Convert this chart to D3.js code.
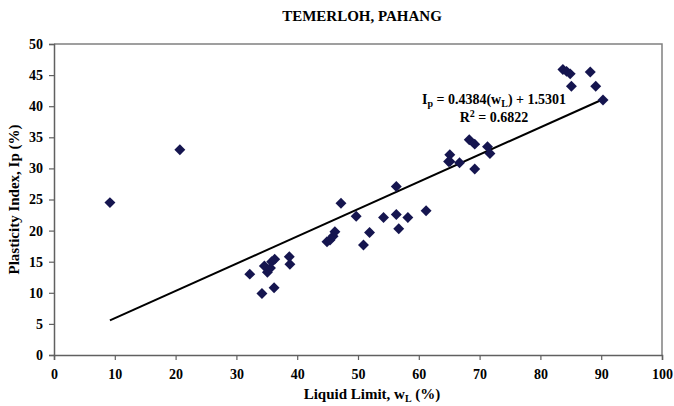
<!DOCTYPE html>
<html>
<head>
<meta charset="utf-8">
<script src="https://cdn.jsdelivr.net/npm/d3@7"></script>
<style>
  body { margin: 0; background: #fff; }
  svg text { font-family: "Liberation Serif", "DejaVu Serif", serif; font-weight: bold; fill: #000; }
</style>
</head>
<body>
<div id="chart"></div>
<script>
// liquid limit (%) and plasticity index (%)
var liquidLimit = [9.2, 20.7, 32.2, 34.2, 36.2, 34.6, 35.1, 35.6, 35.8, 36.3, 38.7, 38.8,
  44.9, 45.4, 45.9, 46.2, 47.2, 49.7, 50.9, 51.9, 54.2, 56.3, 56.3, 56.7, 58.2, 61.2,
  64.9, 65.1, 65.1, 66.7, 68.3, 69.2, 69.2, 71.3, 71.7,
  83.7, 84.3, 84.9, 85.1, 88.2, 89.1, 90.3];
var plasticityIndex = [24.5, 33.0, 13.0, 9.9, 10.8, 14.3, 13.3, 14.0, 15.0, 15.4, 15.8, 14.6,
  18.2, 18.5, 19.1, 19.8, 24.4, 22.3, 17.7, 19.7, 22.1, 27.1, 22.6, 20.3, 22.1, 23.2,
  31.1, 32.2, 31.1, 30.9, 34.6, 33.9, 29.9, 33.5, 32.4,
  45.9, 45.6, 45.2, 43.2, 45.5, 43.2, 41.0];
var xTicks = [0, 10, 20, 30, 40, 50, 60, 70, 80, 90, 100];
var yTicks = [0, 5, 10, 15, 20, 25, 30, 35, 40, 45, 50];
var slope = 0.4384, intercept = 1.5301;
var fitRange = [9.2, 90.3];

var width = 674, height = 406;
var margin = {top: 44, right: 12, bottom: 51, left: 54};

var svg = d3.select("#chart").append("svg")
    .attr("width", width)
    .attr("height", height);

var x = d3.scaleLinear().domain([0, 100]).range([margin.left, width - margin.right]);
var y = d3.scaleLinear().domain([0, 50]).range([height - margin.bottom, margin.top]);

// frame (top + right)
svg.append("path")
    .attr("d", "M" + x(0) + "," + y(50) + "H" + x(100) + "V" + y(0))
    .attr("fill", "none")
    .attr("stroke", "#808080")
    .attr("stroke-width", 1.5);

var xAxis = svg.append("g")
    .attr("transform", "translate(0," + y(0) + ")")
    .call(d3.axisBottom(x).tickValues(xTicks).tickSize(5).tickPadding(9));
var yAxis = svg.append("g")
    .attr("transform", "translate(" + x(0) + ",0)")
    .call(d3.axisLeft(y).tickValues(yTicks).tickSize(5).tickPadding(6));

[xAxis, yAxis].forEach(function(g) {
  g.select(".domain").attr("stroke", "#606060").attr("stroke-width", 1.5);
  g.selectAll(".tick line").attr("stroke", "#606060").attr("stroke-width", 1.2);
  g.selectAll(".tick text").attr("font-size", 14).attr("fill", "#000")
      .attr("font-family", "Liberation Serif").attr("font-weight", "bold");
});

// title
svg.append("text")
    .attr("x", 362).attr("y", 21)
    .attr("text-anchor", "middle")
    .attr("font-size", 15)
    .text("TEMERLOH, PAHANG");

// x axis title
var xt = svg.append("text")
    .attr("x", 372).attr("y", 399)
    .attr("text-anchor", "middle")
    .attr("font-size", 15);
xt.append("tspan").text("Liquid Limit, w");
xt.append("tspan").attr("font-size", 10).attr("dy", 3).text("L");
xt.append("tspan").attr("dy", -3).text(" (%)");

// y axis title
svg.append("text")
    .attr("transform", "translate(19," + y(25) + ") rotate(-90)")
    .attr("text-anchor", "middle")
    .attr("font-size", 15)
    .text("Plasticity Index, Ip (%)");

// trend line
svg.append("line")
    .attr("x1", x(fitRange[0])).attr("y1", y(slope * fitRange[0] + intercept))
    .attr("x2", x(fitRange[1])).attr("y2", y(slope * fitRange[1] + intercept))
    .attr("stroke", "#000")
    .attr("stroke-width", 2);

// points
var diamond = d3.symbol().type(d3.symbolSquare).size(60);
svg.append("g").selectAll("path")
    .data(d3.range(liquidLimit.length))
  .enter().append("path")
    .attr("d", diamond)
    .attr("transform", function(i) {
      return "translate(" + x(liquidLimit[i]) + "," + y(plasticityIndex[i]) + ") rotate(45)";
    })
    .attr("fill", "#15154f");

// equation
var eq = svg.append("text")
    .attr("x", 494).attr("y", 104)
    .attr("text-anchor", "middle")
    .attr("font-size", 14);
eq.append("tspan").text("I");
eq.append("tspan").attr("font-size", 10).attr("dy", 3).text("p");
eq.append("tspan").attr("dy", -3).text(" = 0.4384(w");
eq.append("tspan").attr("font-size", 10).attr("dy", 3).text("L");
eq.append("tspan").attr("dy", -3).text(") + 1.5301");

var r2 = svg.append("text")
    .attr("x", 494).attr("y", 122)
    .attr("text-anchor", "middle")
    .attr("font-size", 14);
r2.append("tspan").text("R");
r2.append("tspan").attr("font-size", 10).attr("dy", -5).text("2");
r2.append("tspan").attr("dy", 5).text(" = 0.6822");
</script>
</body>
</html>
